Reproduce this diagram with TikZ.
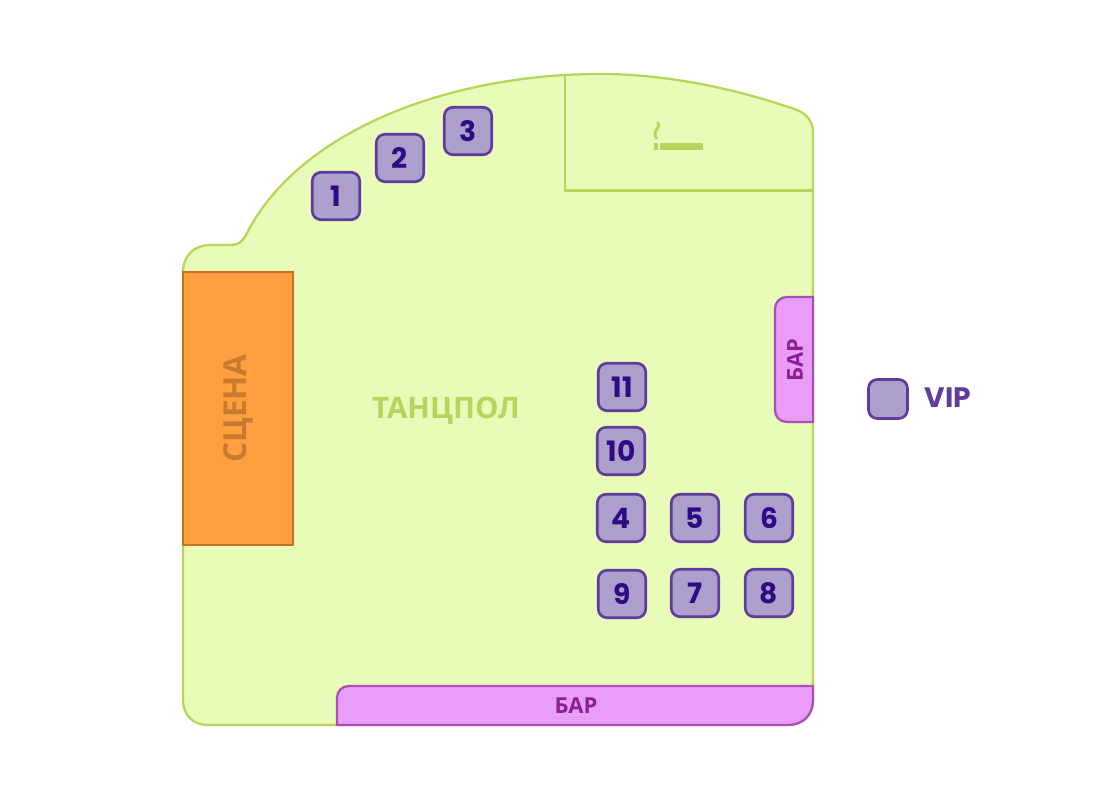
\documentclass[tikz,border=0pt]{standalone}
\usepackage{fontspec}
\setmainfont{Open Sans}
\newfontfamily\digitfont{Poppins}
\definecolor{floorfill}{HTML}{E8FBB8}
\definecolor{floorline}{HTML}{B5D65A}
\definecolor{stagefill}{HTML}{FF9F40}
\definecolor{stageline}{HTML}{C96F22}
\definecolor{stagetext}{HTML}{C87A2F}
\definecolor{barfill}{HTML}{E89EF8}
\definecolor{barline}{HTML}{A94FB5}
\definecolor{bartext}{HTML}{8C1E96}
\definecolor{tablefill}{HTML}{AD9FCB}
\definecolor{tableline}{HTML}{5F3C9A}
\definecolor{tabletext}{HTML}{2E0A85}
\tikzset{
  tablebox/.style={draw=tableline,fill=tablefill,line width=1.5pt,rounded corners=5pt,
    minimum size=0.95cm,inner sep=0pt,text=tabletext,font=\digitfont\bfseries\fontsize{16}{16}\selectfont},
  legendbox/.style={tablebox,minimum size=0.78cm},
  barlabel/.style={text=bartext,font=\bfseries\fontsize{12.5}{13}\selectfont,inner sep=0pt},
  barshape/.style={draw=barline,fill=barfill,line width=1.3pt},
  floorshape/.style={draw=floorline,line width=1.3pt},
}
\begin{document}
\begin{tikzpicture}[x=0.02cm,y=-0.02cm]
\useasboundingbox (0,0) rectangle (1100,800);

% floor
\draw[floorshape,fill=floorfill] (183,272) .. controls (183,256) and (194,245) .. (210,245)
  -- (232,245) .. controls (239,245) and (244,240) .. (247,233)
  .. controls (300,130) and (450,74) .. (600,74)
  .. controls (670,74) and (740,90) .. (797,110)
  .. controls (807,114) and (813,122) .. (813,132)
  -- (813,700) .. controls (813,715) and (803,725) .. (788,725)
  -- (208,725) .. controls (193,725) and (183,715) .. (183,700) -- cycle;

% smoking room
\draw[floorshape] (565,75) -- (565,190.5) -- (813,190.5);
\fill[floorline] (654,143) rectangle (658,150.5);
\fill[floorline] (660,143) rectangle (702.5,150.5);
\draw[floorline,line width=1.6pt] (658,122) .. controls (661,128) and (654,130) .. (655,134) .. controls (655,136) and (656,137) .. (657,139);

% stage
\node[draw=stageline,fill=stagefill,line width=1.3pt,minimum width=2.2cm,minimum height=5.46cm,inner sep=0pt,
  text=stagetext,font=\bfseries\fontsize{18}{18}\selectfont] (stage) at (238,408.5) {\rotatebox{90}{СЦЕНА}};

% bars
\draw[barshape] (813,686) -- (349,686) .. controls (342,686) and (337,691) .. (337,698) -- (337,725)
  -- (788,725) .. controls (803,725) and (813,715) .. (813,700) -- cycle;
\node[barlabel] (barBottom) at (576,706) {БАР};
\draw[barshape] (813,297) -- (787,297) .. controls (780,297) and (775,302) .. (775,309) -- (775,410)
  .. controls (775,417) and (780,422) .. (787,422) -- (813,422) -- cycle;
\node[barlabel,rotate=90] (barSide) at (795,360) {БАР};

\node[text=floorline,font=\bfseries\fontsize{16.8}{18}\selectfont,inner sep=0pt] (dance) at (446,411) {ТАНЦПОЛ};

% tables
\node[tablebox] (t1) at (336,196) {1};
\node[tablebox] (t2) at (400,158) {2};
\node[tablebox] (t3) at (468,131) {3};
\node[tablebox] (t11) at (622,387) {11};
\node[tablebox] (t10) at (621,451) {10};
\node[tablebox] (t4) at (621,518) {4};
\node[tablebox] (t5) at (695,518) {5};
\node[tablebox] (t6) at (769,518) {6};
\node[tablebox] (t9) at (622,594) {9};
\node[tablebox] (t7) at (695,593) {7};
\node[tablebox] (t8) at (769,593) {8};

% legend
\node[legendbox] (legend) at (888,399) {};
\node[text=tableline,font=\digitfont\bfseries\fontsize{16}{16}\selectfont,inner sep=0pt] (vip) at (948,398) {VIP};
\end{tikzpicture}
\end{document}
